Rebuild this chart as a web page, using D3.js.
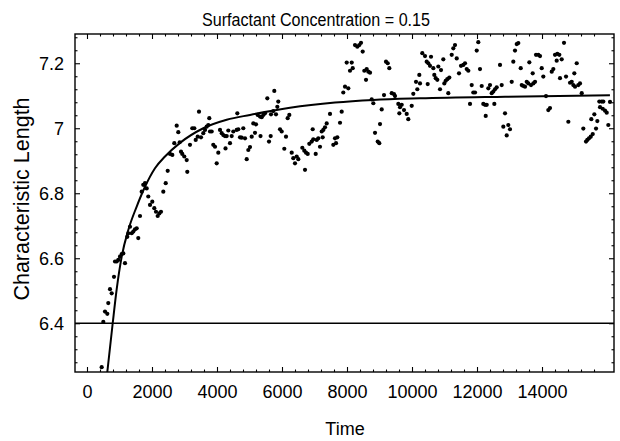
<!DOCTYPE html>
<html><head><meta charset="utf-8">
<script src="https://cdn.jsdelivr.net/npm/d3@7"></script>
<style>
body{margin:0;background:#fff}
svg text{font-family:"Liberation Sans",Arial,Helvetica,sans-serif;fill:#000}
</style>
</head><body>
<svg id="c" width="620" height="441"></svg>
<script>
const title = "Surfactant Concentration = 0.15";
const xLabel = "Time";
const yLabel = "Characteristic Length";
const xTicks = [0,2000,4000,6000,8000,10000,12000,14000];
const yTicks = [6.4,6.6,6.8,7,7.2];
const refLevel = 6.4;

const times = [
452,502,554,625,655,708,760,831,862,914,963,1015,1068,1117,1169,1240,1271,1323,1375,1425,1477,1529,1578,1631,1683,1732,1785,1837,1886,1939,2009,2071,2123,2175,2225,2277,
2348,2422,2483,2554,2625,2686,2760,2809,2852,2892,2932,2994,3068,3086,3169,3240,3302,3345,3406,3446,3508,3579,3631,3683,3732,3763,3785,3837,3886,3939,3991,4040,4092,4145,4194,4246,4299,4262,4348,4400,4452,4502,4606,4625,4655,4708,4760,4809,4862,
4914,4963,5015,5068,5117,5169,5200,5252,5323,5339,5375,5425,5477,5548,5600,5652,5662,5732,5763,5815,5856,5886,5939,5991,6071,6123,6175,6225,6299,6348,6400,6452,6502,6625,6686,6708,6739,6791,6840,6914,6963,6945,7037,7068,7117,7169,7222,7252,7271,7323,7375,
7477,7579,7662,7631,7702,7785,7837,7886,7939,8040,7991,8145,8092,8176,8246,8317,8379,8431,8483,8533,8606,8656,8708,8585,8760,8810,8862,8945,8994,9016,9068,9139,9200,9253,9302,9376,9446,9477,9579,9631,9610,9683,9754,9837,9886,9991,10040,10123,10163,10225,10246,
10317,10400,10585,10452,10502,10554,10483,10656,10686,10729,10779,10810,10893,10862,10963,10994,11037,11086,11148,11117,11222,11271,11323,11376,11446,11508,11579,11631,11683,11733,11785,11837,11886,11939,11991,12040,12092,12145,12194,12246,12299,12268,12348,12400,12452,12502,12554,12606,12533,
12708,12760,12862,12810,12963,13016,12914,13068,13117,13169,13222,13271,13345,13376,13425,13477,13530,13579,13610,13662,13733,13785,13714,13816,13887,13939,13991,14040,14123,14194,14246,14299,14348,14400,14471,14533,14452,14606,14554,14677,14739,14810,14862,14914,14963,15016,14994,15068,15117,15169,15222,15271,15354,15394,15446,15499,15561,15517,15610,15662,15702,15763,15837,15886,15785,15868,15939,15991,16040,16092
];
const lengths = [
6.265,6.404,6.436,6.429,6.462,6.505,6.492,6.543,6.590,6.590,6.595,6.605,6.613,6.615,6.585,6.666,6.677,6.697,6.677,6.682,6.689,6.692,6.662,6.730,6.805,6.826,6.831,6.815,6.790,6.764,6.774,6.754,6.743,6.730,6.738,6.743,
6.805,6.831,6.869,6.921,6.918,6.954,7.008,6.988,6.957,6.928,6.921,6.913,6.902,6.866,6.949,7.000,7.000,6.964,6.974,7.051,6.972,6.985,6.995,7.005,7.010,7.031,6.990,6.990,6.949,6.943,6.892,6.925,6.995,6.985,6.979,6.976,6.976,6.938,6.993,6.954,6.976,6.990,6.995,7.046,6.997,6.972,6.971,7.000,6.969,
6.905,6.933,6.942,6.974,7.015,6.986,7.012,7.041,7.036,6.976,7.034,7.041,7.046,7.092,6.959,6.976,7.043,7.053,7.115,7.043,7.066,7.082,6.997,6.990,6.937,6.974,7.031,7.041,6.925,6.908,6.892,6.913,6.905,6.940,6.931,6.872,6.925,6.921,6.952,6.959,6.966,6.997,6.921,6.964,6.969,6.943,6.990,6.972,6.995,7.003,7.015,
7.044,6.949,6.954,6.969,6.972,7.017,7.051,7.110,7.128,7.123,7.202,7.202,7.177,7.185,7.256,7.251,7.256,7.263,7.236,7.177,7.182,7.174,7.171,7.149,7.089,7.077,6.986,6.959,6.954,7.013,7.058,7.102,7.205,7.200,7.185,7.108,7.105,7.099,7.075,7.065,7.046,7.072,7.056,7.044,7.028,7.069,7.106,7.143,7.120,7.164,7.138,
7.231,7.222,7.220,7.205,7.200,7.192,7.136,7.185,7.164,7.154,7.149,7.190,7.179,7.120,7.212,7.138,7.146,7.151,7.156,7.108,7.226,7.246,7.256,7.215,7.169,7.192,7.195,7.200,7.182,7.177,7.075,7.133,7.110,7.110,7.239,7.265,7.182,7.130,7.075,7.072,7.072,7.038,7.123,7.133,7.108,7.113,7.120,7.126,7.075,
7.195,7.133,7.046,7.005,7.010,6.997,6.978,7.143,7.205,7.239,7.259,7.262,7.185,7.133,7.130,7.128,7.143,7.138,7.203,7.133,7.138,7.143,7.169,7.226,7.226,7.222,7.185,7.159,7.099,7.056,7.062,7.174,7.182,7.226,7.229,7.226,7.208,7.212,7.154,7.263,7.159,7.020,7.140,7.143,7.133,7.128,7.169,7.200,7.133,7.138,7.108,6.999,6.959,6.964,6.969,6.974,6.982,7.028,7.043,6.999,7.022,7.082,7.082,7.082,7.065,7.060,7.054,7.048,7.010,7.081
];
const fitTimes = [560,625,791,914,1068,1271,1529,1785,2092,2400,2862,3579,4298,5015,6246,7631,8810,10246,12862,16090];
const fitLengths = [6.19,6.25,6.40,6.505,6.605,6.687,6.759,6.82,6.877,6.913,6.955,7.0,7.026,7.041,7.063,7.079,7.087,7.092,7.097,7.1015];

const W = 620, H = 441;
const M = {left:75, right:6, top:34, bottom:69};
const xDomain = [-369, 16215];
const yDomain = [6.25, 7.29];

const svg = d3.select("#c");
const x = d3.scaleLinear().domain(xDomain).range([M.left, W - M.right]);
const y = d3.scaleLinear().domain(yDomain).range([H - M.bottom, M.top]);
const [x0, x1] = x.range(), [y0, y1] = y.range();

svg.append("defs").append("clipPath").attr("id","clip")
  .append("rect").attr("x", x0).attr("y", y1).attr("width", x1 - x0).attr("height", y0 - y1);

const xMinor = d3.range(-400, xDomain[1] + 1, 400).filter(v => v >= xDomain[0] && v <= xDomain[1] && v % 2000 !== 0);
const yMinor = d3.range(6.24, 7.3, 0.04).map(v => +v.toFixed(2)).filter(v => v >= yDomain[0] && v <= yDomain[1] && !yTicks.some(t => Math.abs(t - v) < 1e-6));

function styleAxis(g){
  g.select(".domain").remove();
  g.selectAll(".tick line").attr("stroke","#000").attr("stroke-width",1.1);
  g.selectAll(".tick text").attr("font-size",18).attr("font-family",'"Liberation Sans",Arial,sans-serif');
}
// bottom
svg.append("g").attr("transform",`translate(0,${y0})`)
  .call(d3.axisBottom(x).tickValues(xTicks).tickSize(-5).tickPadding(13).tickFormat(d3.format("d"))).call(styleAxis);
svg.append("g").attr("transform",`translate(0,${y0})`)
  .call(d3.axisBottom(x).tickValues(xMinor).tickSize(-2.5).tickFormat("")).call(styleAxis);
// top
svg.append("g").attr("transform",`translate(0,${y1})`)
  .call(d3.axisTop(x).tickValues(xTicks).tickSize(-5).tickFormat("")).call(styleAxis);
svg.append("g").attr("transform",`translate(0,${y1})`)
  .call(d3.axisTop(x).tickValues(xMinor).tickSize(-2.5).tickFormat("")).call(styleAxis);
// left
svg.append("g").attr("transform",`translate(${x0},0)`)
  .call(d3.axisLeft(y).tickValues(yTicks).tickSize(-5).tickPadding(11).tickFormat(d => String(d))).call(styleAxis);
svg.append("g").attr("transform",`translate(${x0},0)`)
  .call(d3.axisLeft(y).tickValues(yMinor).tickSize(-2.5).tickFormat("")).call(styleAxis);
// right
svg.append("g").attr("transform",`translate(${x1},0)`)
  .call(d3.axisRight(y).tickValues(yTicks).tickSize(-5).tickFormat("")).call(styleAxis);
svg.append("g").attr("transform",`translate(${x1},0)`)
  .call(d3.axisRight(y).tickValues(yMinor).tickSize(-2.5).tickFormat("")).call(styleAxis);

const plot = svg.append("g").attr("clip-path","url(#clip)");

// reference line
plot.append("line").attr("x1",x0).attr("x2",x1).attr("y1",y(refLevel)).attr("y2",y(refLevel))
  .attr("stroke","#000").attr("stroke-width",1.3);

// points
plot.selectAll("circle.pt").data(d3.zip(times, lengths)).join("circle")
  .attr("class","pt").attr("cx", d => x(d[0])).attr("cy", d => y(d[1])).attr("r",2.1).attr("fill","#000");

// fit curve
plot.append("path").datum(d3.zip(fitTimes, fitLengths))
  .attr("fill","none").attr("stroke","#000").attr("stroke-width",2)
  .attr("d", d3.line().x(d => x(d[0])).y(d => y(d[1])).curve(d3.curveMonotoneX));

// frame
svg.append("rect").attr("x",x0).attr("y",y1).attr("width",x1-x0).attr("height",y0-y1)
  .attr("fill","none").attr("stroke","#000").attr("stroke-width",1.4);

// titles
svg.append("text").attr("x",316).attr("y",26).attr("text-anchor","middle").attr("font-size",17.5)
  .attr("textLength",228).attr("lengthAdjust","spacingAndGlyphs").text(title);
svg.append("text").attr("x",345).attr("y",435).attr("text-anchor","middle").attr("font-size",18).text(xLabel);
svg.append("text").attr("transform",`translate(29,199) rotate(-90)`).attr("text-anchor","middle").attr("font-size",21.5).text(yLabel);
</script>
</body></html>
